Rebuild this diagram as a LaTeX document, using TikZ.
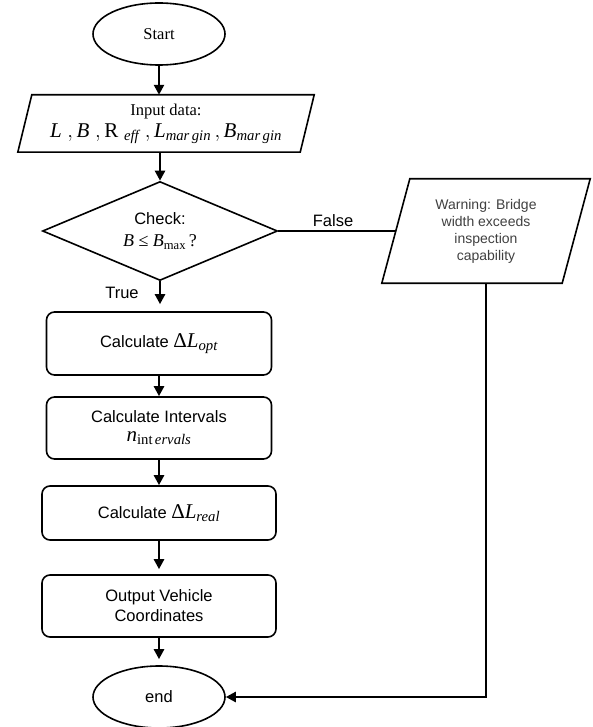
\documentclass[tikz,border=0pt]{standalone}
\usepackage{amsmath}
\usepackage{fontspec}
\setmainfont{Liberation Serif}
\setsansfont{Liberation Sans}
\usetikzlibrary{shapes.geometric,arrows.meta,calc}
\newcommand\mv[1]{\text{\rmfamily\itshape #1}}
\newcommand\mr[1]{\text{\rmfamily\upshape #1}}
\begin{document}
\begin{tikzpicture}[x=1pt,y=-1pt,
  serifbig/.style={font=\rmfamily\fontsize{16.5}{19}\selectfont},
  sanslab/.style={font=\sffamily\fontsize{16.5}{20}\selectfont},
  term/.style={ellipse, draw, line width=1.6pt, minimum width=132pt, minimum height=62pt, inner sep=0pt},
  proc/.style={draw, rounded corners=8pt, line width=1.6pt, align=center, inner sep=0pt, sanslab},
  plain/.style={align=center, inner sep=0pt},
  shapeline/.style={line width=1.6pt},
  arr/.style={line width=2.4pt, -{Triangle[length=10pt,width=10pt]}},
  link/.style={line width=2.4pt}]
\useasboundingbox (0,0) rectangle (592,727);

% terminals
\node[term, serifbig] (start) at (159,34) {Start};
\node[term, sanslab] (endn) at (159,697) {end};

% input parallelogram
\node[plain, serifbig, minimum width=282pt, minimum height=57pt] (input) at (166,123.5)
  {Input data:\\[3pt]\fontsize{21}{22}\selectfont
   $\mv{L}\;,\mv{B}\;,\mr{R}\;_{\mv{eff}}\;,\mv{L}_{\mv{mar\,gin}}\,,\mv{B}_{\mv{mar\,gin}}$};
\draw[shapeline] ($(input.north west)+(7,0)$) -- ($(input.north east)+(7,0)$)
  -- ($(input.south east)+(-7,0)$) -- ($(input.south west)+(-7,0)$) -- cycle;

% decision
\node[diamond, draw, line width=1.6pt, aspect=2.37, minimum width=235pt, minimum height=99pt,
  inner sep=0pt, align=center, sanslab] (check) at (160,231)
  {Check:\\[2pt]\rmfamily\fontsize{18}{20}\selectfont $\mv{B}\ \mr{≤}\ \mv{B}_{\mr{max}}\,\mr{?}$};

% warning parallelogram
\node[plain, minimum width=180pt, minimum height=104pt,
  font=\sffamily\fontsize{14}{17}\selectfont, text=black!75] (warn) at (486,231)
  {Warning: Bridge\\width exceeds\\inspection\\capability};
\draw[shapeline] ($(warn.north west)+(14,0)$) -- ($(warn.north east)+(14,0)$)
  -- ($(warn.south east)+(-14,0)$) -- ($(warn.south west)+(-14,0)$) -- cycle;

% process boxes
\node[proc, minimum width=225pt, minimum height=63pt] (b1) at (159,343.5)
  {Calculate {\fontsize{21}{21}\selectfont $\mr{Δ}\mv{L}_{\mv{opt}}$}};
\node[proc, minimum width=225pt, minimum height=62pt] (b2) at (159,428)
  {Calculate Intervals\\[-1pt]{\fontsize{21}{21}\selectfont $\mv{n}_{\mr{int}\,\mv{ervals}}$}};
\node[proc, minimum width=234pt, minimum height=54pt] (b3) at (159,513)
  {Calculate {\fontsize{21}{21}\selectfont $\mr{Δ}\mv{L}_{\mv{real}}$}};
\node[proc, minimum width=234pt, minimum height=62pt] (b4) at (159,606)
  {Output Vehicle\\Coordinates};

% labels
\node[sanslab] (lfalse) at (333,221) {False};
\node[sanslab] (ltrue) at (122,293) {True};

% connectors
\draw[arr] (start.south) -- (start.south |- input.north);
\draw[arr] (input.south -| check.north) -- (check.north);
\draw[link] (check.east) -- (warn.west);
\draw[arr, shorten >=7pt] (check.south) -- (check.south |- b1.north);
\draw[arr] (b1) -- (b2);
\draw[arr] (b2) -- (b3);
\draw[arr, shorten >=5pt] (b3) -- (b4);
\draw[arr, shorten >=6pt] (b4) -- (endn);
\draw[arr] (warn.south) |- (endn.east);
\end{tikzpicture}
\end{document}
